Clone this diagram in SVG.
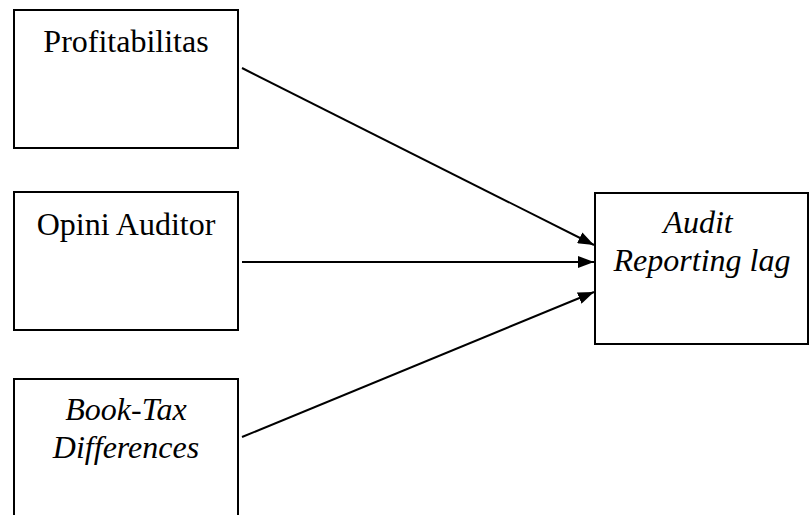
<svg xmlns="http://www.w3.org/2000/svg" width="810" height="515" viewBox="0 0 810 515">
<defs>
<marker id="ah" markerWidth="8" markerHeight="6" refX="8" refY="3" orient="auto" markerUnits="strokeWidth">
<path d="M0,0 L8,3 L0,6 Z" fill="#000"/>
</marker>
<style>
.box{fill:#fff;stroke:#000;stroke-width:2}
.t{font-family:"Liberation Serif","Times New Roman",serif;font-size:32px;fill:#000;text-anchor:middle}
.i{font-style:italic}
.c{stroke:#000;stroke-width:2;fill:none;marker-end:url(#ah)}
</style>
</defs>
<rect width="810" height="515" fill="#fff"/>
<g id="profitabilitas">
<rect class="box" x="14" y="10" width="224" height="138"/>
<text class="t" x="126" y="52">Profitabilitas</text>
</g>
<g id="opini">
<rect class="box" x="14" y="192" width="224" height="138"/>
<text class="t" x="126" y="235">Opini Auditor</text>
</g>
<g id="btd">
<rect class="box" x="14" y="379" width="224" height="150"/>
<text class="t i" x="126" y="420">Book-Tax</text>
<text class="t i" x="126" y="458">Differences</text>
</g>
<g id="arl">
<rect class="box" x="595" y="193" width="213" height="151"/>
<text class="t i" x="698" y="233">Audit</text>
<text class="t i" x="702" y="271">Reporting lag</text>
</g>
<g id="connectors">
<line class="c" x1="242" y1="68" x2="594" y2="245"/>
<line class="c" x1="242" y1="262" x2="594" y2="262"/>
<line class="c" x1="242" y1="437" x2="594" y2="292"/>
</g>
</svg>
